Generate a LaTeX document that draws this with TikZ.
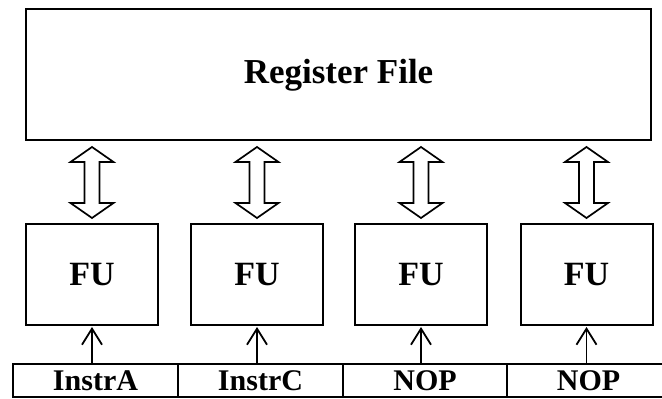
\documentclass[tikz,border=0pt]{standalone}
\usepackage{fontspec}
\setmainfont{Liberation Serif}
\usetikzlibrary{arrows.meta,calc}
\begin{document}
\begin{tikzpicture}[x=1pt,y=1pt,
 box/.style={draw,line width=2pt,inner sep=0pt,fill=white},
 rfbox/.style={box,minimum width=625pt,minimum height=130.5pt,font=\bfseries\fontsize{35}{40}\selectfont},
 fubox/.style={box,minimum width=132pt,minimum height=101pt,font=\bfseries\fontsize{34}{38}\selectfont},
 cell/.style={box,minimum height=33pt,font=\bfseries\fontsize{30}{33}\selectfont},
 dbl/.style={draw,line width=1.7pt,fill=white,line join=miter},
 feed/.style={line width=1.8pt,-{Straight Barb[length=16pt,width=20pt,line width=1.8pt]}}
]
\useasboundingbox (0,0) rectangle (662,399);
\node[rfbox] (rf) at (338.5,324.25) {Register File};
\node[fubox] (fu1) at (92,124.5) {FU};
\node[fubox] (fu2) at (257,124.5) {FU};
\node[fubox] (fu3) at (421,124.5) {FU};
\node[fubox] (fu4) at (586.5,124.5) {FU};
\node[cell,minimum width=165pt] (i1) at (95.5,18.5) {InstrA};
\node[cell,minimum width=165pt] (i2) at (260.5,18.5) {InstrC};
\node[cell,minimum width=164pt] (i3) at (425,18.5) {NOP};
\node[cell,minimum width=163pt] (i4) at (588.5,18.5) {NOP};
\foreach \i in {1,...,4}{
  \coordinate (t\i) at ($(fu\i.north |- rf.south)+(0,-6)$);
  \coordinate (b\i) at ($(fu\i.north)+(0,5)$);
  \draw[dbl] (t\i) -- ($(t\i)+(21.5,-15)$) -- ($(t\i)+(7.5,-15)$)
    -- ($(b\i)+(7.5,15)$) -- ($(b\i)+(21.5,15)$) -- (b\i)
    -- ($(b\i)+(-21.5,15)$) -- ($(b\i)+(-7.5,15)$)
    -- ($(t\i)+(-7.5,-15)$) -- ($(t\i)+(-21.5,-15)$) -- cycle;
  \draw[feed] (i\i.north -| fu\i.south) -- ($(fu\i.south)+(0,-1)$);
}
\end{tikzpicture}
\end{document}
